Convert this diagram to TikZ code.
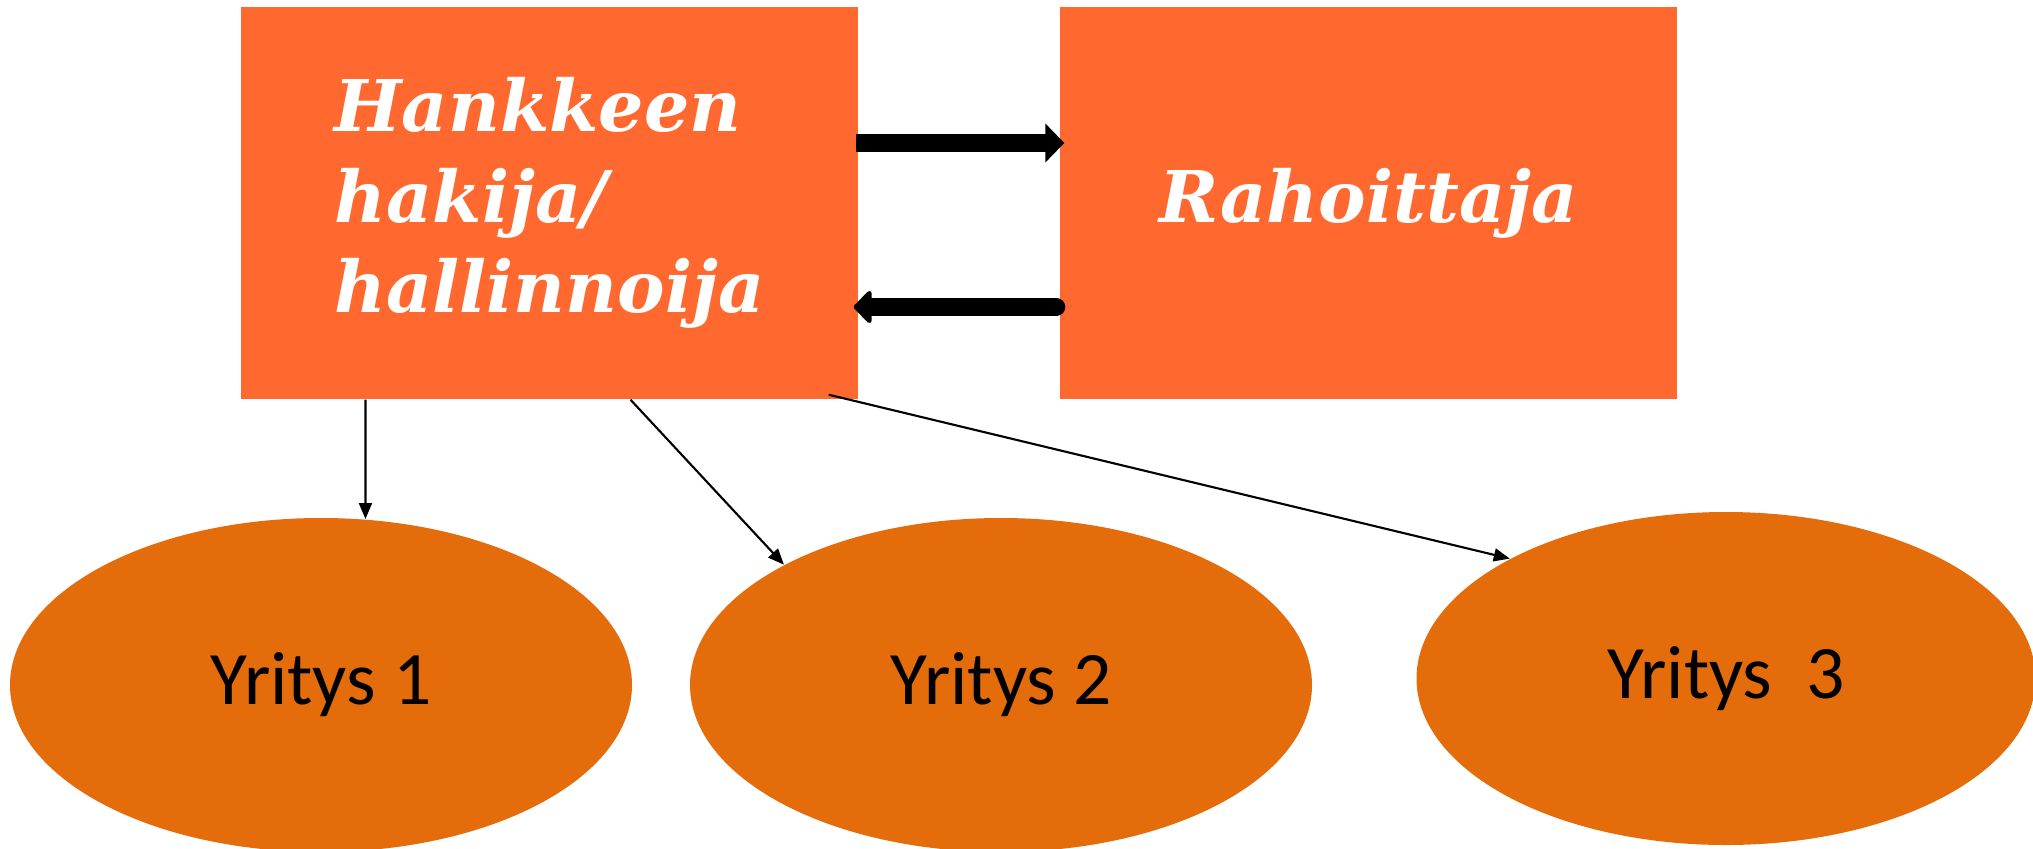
\documentclass[tikz,border=0pt]{standalone}
\usepackage{fontspec}
\usepackage{tikz}
\usetikzlibrary{arrows.meta, shapes.geometric}
\newfontfamily\boxfont{DejaVu Serif}
\newfontfamily\ovalfont{Carlito}
\definecolor{o}{RGB}{255,105,48}
\definecolor{d}{RGB}{228,108,10}

\begin{document}
\begin{tikzpicture}[
		box/.style={rectangle, fill=o, text=white, minimum width=6.17cm, minimum height=3.92cm, align=left, font=\boxfont\bfseries\itshape\fontsize{20.3}{25.8}\selectfont},
		oval/.style={ellipse, fill=d, minimum width=6.22cm, minimum height=3.34cm, font=\ovalfont\fontsize{21.5}{24}\selectfont},
		thick arrow/.style={draw, line width=0.18cm, -{Triangle[length=0.19cm,width=0.38cm]}},
		arrow/.style={draw, line width=0.6pt, -{Triangle[length=0.16cm,width=0.13cm]}}
	]

	\useasboundingbox (0, 0) rectangle (20.33, 8.48);

	% boxes
	\node[box] (hakija) at (5.495, 6.45) {Hankkeen\\hakija/\\hallinnoija};
	\node[box] (rahoittaja) at (13.685, 6.45) {Rahoittaja};

	% ellipses
	\node[oval] (yritys-1) at (3.21, 1.63) {Yritys 1};
	\node[oval] (yritys-2) at (10.01, 1.63) {Yritys 2};
	\node[oval, minimum width=6.19cm, minimum height=3.33cm] (yritys-3) at (17.26, 1.695) {Yritys\ \ 3};

	% arrows between the boxes
	\draw[thick arrow] ([xshift=-0.03cm, yshift=0.6cm]hakija.east) -- ([xshift=0.05cm, yshift=0.6cm]rahoittaja.west);
	\draw[thick arrow, line cap=round, -{Triangle[length=0.19cm,width=0.38cm,round]}] ([xshift=-0.03cm, yshift=-1.04cm]rahoittaja.west) -- ([xshift=-0.05cm, yshift=-1.04cm]hakija.east);

	% arrows to the companies
	\draw[arrow] ([xshift=-1.84cm]hakija.south) -- (yritys-1.75.6);
	\draw[arrow] ([xshift=0.81cm]hakija.south) -- (yritys-2.151.4);
	\draw[arrow] ([xshift=-0.3cm, yshift=0.05cm]hakija.south east) -- (yritys-3.151.7);

\end{tikzpicture}
\end{document}
